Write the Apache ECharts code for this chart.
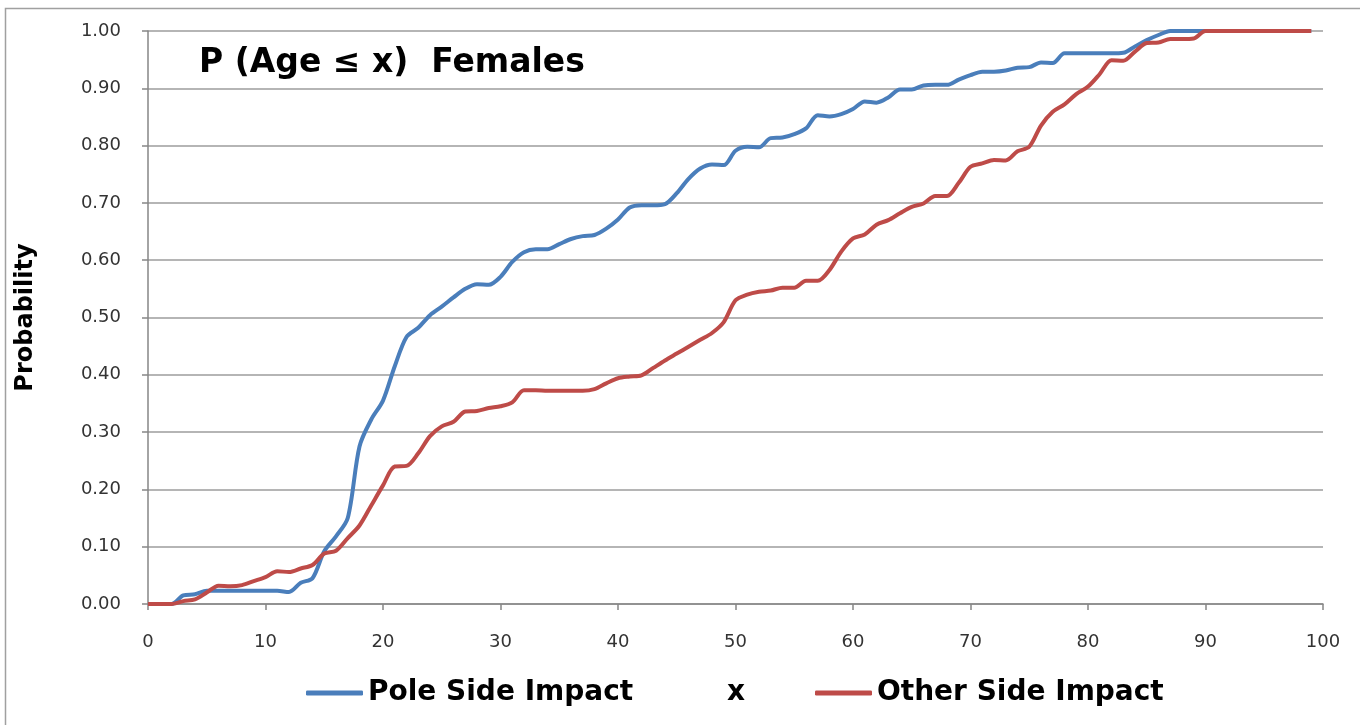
<!DOCTYPE html>
<html>
<head>
<meta charset="utf-8">
<script src="https://cdn.jsdelivr.net/npm/echarts@6/dist/echarts.min.js"></script>
<style>
  html, body { margin: 0; padding: 0; background: #fff; }
  #main { width: 1360px; height: 725px; }
</style>
</head>
<body>
<div id="main"></div>
<script>
// age values 0..99
var ages = [];
for (var i = 0; i < 100; i++) ages.push(i);

// P(Age <= x), pole side impact
var pole = [
    0, 0, 0, 0.015, 0.017, 0.023, 0.023, 0.023, 0.023, 0.023,
    0.023, 0.023, 0.021, 0.037, 0.045, 0.092, 0.118, 0.150, 0.275, 0.322,
    0.355, 0.415, 0.466, 0.482, 0.504, 0.519, 0.535, 0.550, 0.558, 0.557,
    0.571, 0.597, 0.614, 0.619, 0.619, 0.628, 0.637, 0.642, 0.644, 0.655,
    0.671, 0.692, 0.696, 0.696, 0.698, 0.717, 0.742, 0.760, 0.767, 0.766,
    0.791, 0.798, 0.797, 0.813, 0.814, 0.820, 0.830, 0.853, 0.851, 0.855,
    0.864, 0.877, 0.875, 0.884, 0.898, 0.898, 0.905, 0.906, 0.906, 0.915,
    0.923, 0.929, 0.929, 0.931, 0.936, 0.937, 0.945, 0.944, 0.961, 0.961,
    0.961, 0.961, 0.961, 0.962, 0.973, 0.984, 0.993, 1, 1, 1,
    1, 1, 1, 1, 1, 1, 1, 1, 1, 1
];

// P(Age <= x), other side impact
var other = [
    0, 0, 0, 0.005, 0.008, 0.020, 0.032, 0.031, 0.033, 0.040,
    0.047, 0.057, 0.056, 0.062, 0.068, 0.088, 0.093, 0.115, 0.137, 0.172,
    0.207, 0.240, 0.241, 0.263, 0.293, 0.310, 0.318, 0.336, 0.337, 0.342,
    0.345, 0.352, 0.373, 0.373, 0.372, 0.372, 0.372, 0.372, 0.375, 0.385,
    0.394, 0.397, 0.399, 0.412, 0.425, 0.437, 0.449, 0.461, 0.473, 0.492,
    0.530, 0.540, 0.545, 0.547, 0.552, 0.552, 0.564, 0.564, 0.583, 0.615,
    0.638, 0.645, 0.662, 0.670, 0.682, 0.693, 0.699, 0.712, 0.712, 0.735,
    0.763, 0.769, 0.775, 0.774, 0.790, 0.798, 0.835, 0.859, 0.872, 0.890,
    0.903, 0.925, 0.949, 0.948, 0.964, 0.979, 0.980, 0.986, 0.986, 0.987,
    1, 1, 1, 1, 1, 1, 1, 1, 1, 1
];

function pairs(vals) {
    return ages.map(function (a, k) { return [a, vals[k]]; });
}

var blue = '#4a7ebb';
var red = '#be4b48';
var gridColor = '#9c9c9c';
var legendText = { fontFamily: 'DejaVu Sans', fontWeight: 'bold', fontSize: 28, color: '#000' };

var myChart = echarts.init(document.getElementById('main'));

var option = {
    animation: false,
    title: {
        text: 'P (Age \u2264 x)  Females',
        left: 194,
        top: 42,
        textStyle: { fontFamily: 'DejaVu Sans', fontWeight: 'bold', fontSize: 33, color: '#000' }
    },
    graphic: [{
        type: 'rect',
        silent: true,
        shape: { x: 5.5, y: 8.5, width: 1400, height: 800 },
        style: { fill: 'none', stroke: '#a0a0a0', lineWidth: 1.5 }
    }],
    legend: [{
        left: 301, top: 674, itemWidth: 57, itemHeight: 5, icon: 'roundRect',
        textStyle: legendText,
        data: ['Pole Side Impact']
    }, {
        left: 660, top: 674, itemWidth: 57, itemHeight: 5,
        textStyle: legendText,
        data: [{ name: 'x', icon: 'none' }]
    }, {
        left: 810, top: 674, itemWidth: 57, itemHeight: 5, icon: 'roundRect',
        textStyle: legendText,
        data: ['Other Side Impact']
    }],
    grid: { left: 148, right: 37, top: 31, bottom: 121 },
    xAxis: {
        type: 'value',
        min: 0, max: 100, interval: 10,
        axisLine: { lineStyle: { color: '#868686', width: 1.5 } },
        axisTick: { show: true, length: 6, lineStyle: { color: '#868686', width: 1.5 } },
        axisLabel: { margin: 29, fontFamily: 'DejaVu Sans', fontSize: 18, color: '#333' },
        splitLine: { show: false }
    },
    yAxis: {
        type: 'value',
        min: 0, max: 1, interval: 0.1,
        name: 'Probability',
        nameLocation: 'middle',
        nameRotate: 90,
        nameGap: 110,
        nameTextStyle: { fontFamily: 'DejaVu Sans', fontWeight: 'bold', fontSize: 24, color: '#000' },
        axisLine: { show: true, lineStyle: { color: '#868686', width: 1.5 } },
        axisTick: { show: true, length: 6, lineStyle: { color: '#868686', width: 1.5 } },
        axisLabel: {
            margin: 27, fontFamily: 'DejaVu Sans', fontSize: 18, color: '#333',
            formatter: function (v) { return v.toFixed(2); }
        },
        splitLine: { lineStyle: { color: gridColor, width: 1.5 } }
    },
    series: [{
        name: 'Pole Side Impact',
        type: 'line',
        data: pairs(pole),
        showSymbol: false,
        smooth: 0.3,
        color: blue,
        lineStyle: { width: 4, color: blue }
    }, {
        name: 'x',
        type: 'line',
        data: [],
        showSymbol: false,
        color: 'rgba(0,0,0,0)'
    }, {
        name: 'Other Side Impact',
        type: 'line',
        data: pairs(other),
        showSymbol: false,
        smooth: 0.3,
        color: red,
        lineStyle: { width: 4, color: red }
    }]
};

myChart.setOption(option);
</script>
</body>
</html>
